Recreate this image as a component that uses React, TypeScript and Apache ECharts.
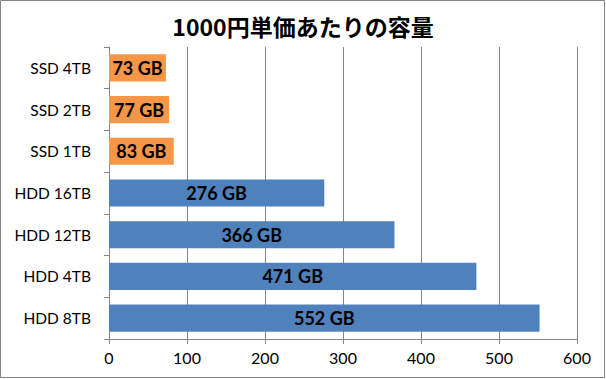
import React, { useEffect, useRef } from "react";
import * as echarts from "echarts";

const categories = ["HDD 8TB", "HDD 4TB", "HDD 12TB", "HDD 16TB", "SSD 1TB", "SSD 2TB", "SSD 4TB"];
const values = [552, 471, 366, 276, 83, 77, 73];
const xTicks = [0, 100, 200, 300, 400, 500, 600];
const title = "1000円単価あたりの容量";

const BLUE = "#4F81BD";
const ORANGE = "#F79646";

export default function App() {
  const ref = useRef<HTMLDivElement>(null);
  useEffect(() => {
    const chart = echarts.init(ref.current!, null, { renderer: "svg" });
    chart.setOption({
      animation: false,
      backgroundColor: "#fff",
      title: {
        text: title,
        left: "center",
        top: 9,
        textStyle: {
          fontFamily: "'Noto Sans CJK JP', sans-serif",
          fontWeight: "bold",
          fontSize: 23,
          color: "#000",
        },
      },
      graphic: [
        {
          type: "rect",
          shape: { x: 0.5, y: 0.5, width: 604, height: 377 },
          style: { fill: "none", stroke: "#868686", lineWidth: 1 },
          silent: true,
        },
      ],
      grid: { left: 109, right: 29, top: 47, bottom: 40 },
      xAxis: {
        type: "value",
        min: xTicks[0],
        max: xTicks[xTicks.length - 1],
        interval: 100,
        axisLine: { show: true, lineStyle: { color: "#868686" } },
        axisTick: { show: true, length: 5, lineStyle: { color: "#868686" } },
        splitLine: { show: true, lineStyle: { color: "#868686" } },
        axisLabel: { fontFamily: "Lato", fontSize: 16, color: "#000", margin: 10 },
      },
      yAxis: {
        type: "category",
        data: categories,
        axisLine: { show: true, lineStyle: { color: "#868686" } },
        axisTick: { show: true, length: 5, lineStyle: { color: "#868686" } },
        axisLabel: { fontFamily: "Lato", fontSize: 15.5, color: "#000", margin: 18 },
      },
      series: [
        {
          type: "bar",
          data: values.map((v, i) => ({
            value: v,
            itemStyle: { color: categories[i].startsWith("SSD") ? ORANGE : BLUE },
          })),
          barCategoryGap: "35%",
          label: {
            show: true,
            position: "inside",
            formatter: "{c} GB",
            fontFamily: "Lato",
            fontWeight: "bold",
            fontSize: 18,
            color: "#000",
          },
        },
      ],
    });
    return () => chart.dispose();
  }, []);
  return (
    <div
      ref={ref}
      style={{ position: "fixed", left: 0, top: 0, width: 606, height: 379 }}
    />
  );
}
